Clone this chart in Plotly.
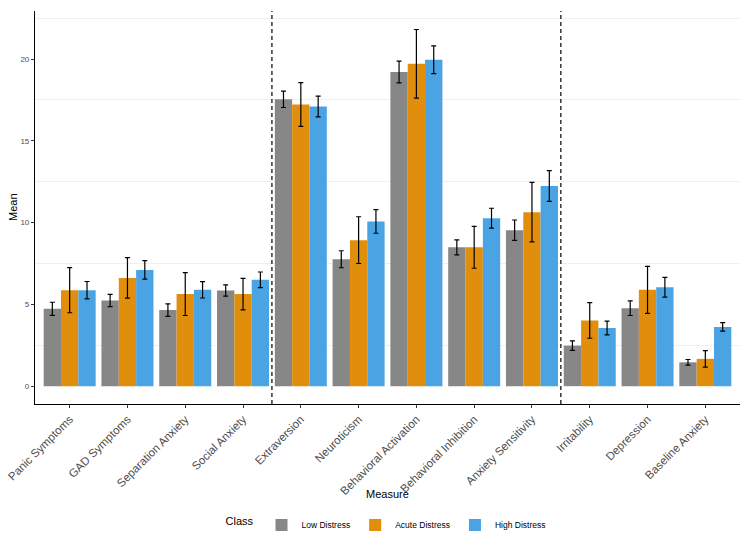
import plotly.graph_objects as go

measures = ["Panic Symptoms", "GAD Symptoms", "Separation Anxiety", "Social Anxiety",
            "Extraversion", "Neuroticism", "Behavioral Activation", "Behavioral Inhibition",
            "Anxiety Sensitivity", "Irritability", "Depression", "Baseline Anxiety"]

low_mean = [4.73, 5.24, 4.65, 5.85, 17.54, 7.76, 19.21, 8.49, 9.54, 2.48, 4.77, 1.46]
low_err = [0.40, 0.37, 0.38, 0.35, 0.50, 0.52, 0.67, 0.46, 0.62, 0.29, 0.45, 0.17]

acute_mean = [5.87, 6.62, 5.63, 5.63, 17.22, 8.93, 19.71, 8.49, 10.64, 4.02, 5.89, 1.67]
acute_err = [1.38, 1.24, 1.31, 0.96, 1.34, 1.43, 2.10, 1.28, 1.82, 1.09, 1.44, 0.50]

high_mean = [5.87, 7.11, 5.89, 6.50, 17.10, 10.07, 19.96, 10.27, 12.24, 3.56, 6.05, 3.62]
high_err = [0.53, 0.57, 0.50, 0.48, 0.63, 0.72, 0.85, 0.61, 0.94, 0.42, 0.60, 0.26]

classes = ["Low Distress", "Acute Distress", "High Distress"]
colors = ["#878787", "#E08E0B", "#4AA4E4"]
series = [(low_mean, low_err), (acute_mean, acute_err), (high_mean, high_err)]

divider_positions = [3.5, 8.5]
y_ticks = [0, 5, 10, 15, 20]
y_minor = [2.5, 7.5, 12.5, 17.5, 22.5]

FONT = "Liberation Sans, Arial, sans-serif"

fig = go.Figure()
for name, col, (m, e) in zip(classes, colors, series):
    fig.add_trace(go.Bar(
        x=measures, y=m, name=name,
        marker=dict(color=col, line=dict(width=0)),
        error_y=dict(type="data", array=e, visible=True, color="black", thickness=1.2, width=2.5),
    ))

for xp in divider_positions:
    fig.add_vline(x=xp, line=dict(color="black", width=1.2, dash="4px,3px"))

L, R, T, B = 35, 11, 11, 139
PW, PH = 751 - L - R, 543 - T - B

fig.update_layout(
    width=751, height=543,
    margin=dict(l=L, r=R, t=T, b=B, autoexpand=False),
    paper_bgcolor="white", plot_bgcolor="white",
    barmode="group", bargap=0.1, bargroupgap=0,
    font=dict(family=FONT, color="black"),
    showlegend=True,
    legend=dict(orientation="h", x=0.5, xanchor="center", y=-(525 - 404) / PH, yanchor="middle",
                title=dict(text="Class", font=dict(size=11, color="black")),
                font=dict(size=8.5, color="black"), itemwidth=30),
    xaxis=dict(
        range=[-0.6, 11.6], showline=True, linecolor="black", linewidth=1.2,
        ticks="outside", ticklen=3, tickcolor="#333333", tickangle=-45,
        tickfont=dict(size=11.5, color="#4d4d4d", family=FONT),
        showgrid=False, zeroline=False, automargin=False,
    ),
    yaxis=dict(
        range=[-1.09, 22.94], showline=True, linecolor="black", linewidth=1.2,
        ticks="outside", ticklen=3, tickcolor="#333333",
        tickvals=y_ticks, tickfont=dict(size=8, color="#4d4d4d", family=FONT),
        showgrid=False, zeroline=False, automargin=False,
        minor=dict(tickvals=y_minor, showgrid=True, gridcolor="#efefef", gridwidth=1, ticklen=0),
    ),
    annotations=[
        dict(text="Mean", x=(13 - L) / PW, y=(404 - 207) / PH, xref="paper", yref="paper",
             showarrow=False, textangle=-90, xanchor="center", yanchor="middle",
             font=dict(size=11, color="black")),
        dict(text="Measure", x=0.5, y=-(494 - 404) / PH, xref="paper", yref="paper", showarrow=False,
             xanchor="center", yanchor="middle", font=dict(size=11, color="black")),
    ],
)

fig.write_html("out.html", config={"displayModeBar": False},
               post_script="document.body.style.margin='0';document.body.style.overflow='hidden';")
